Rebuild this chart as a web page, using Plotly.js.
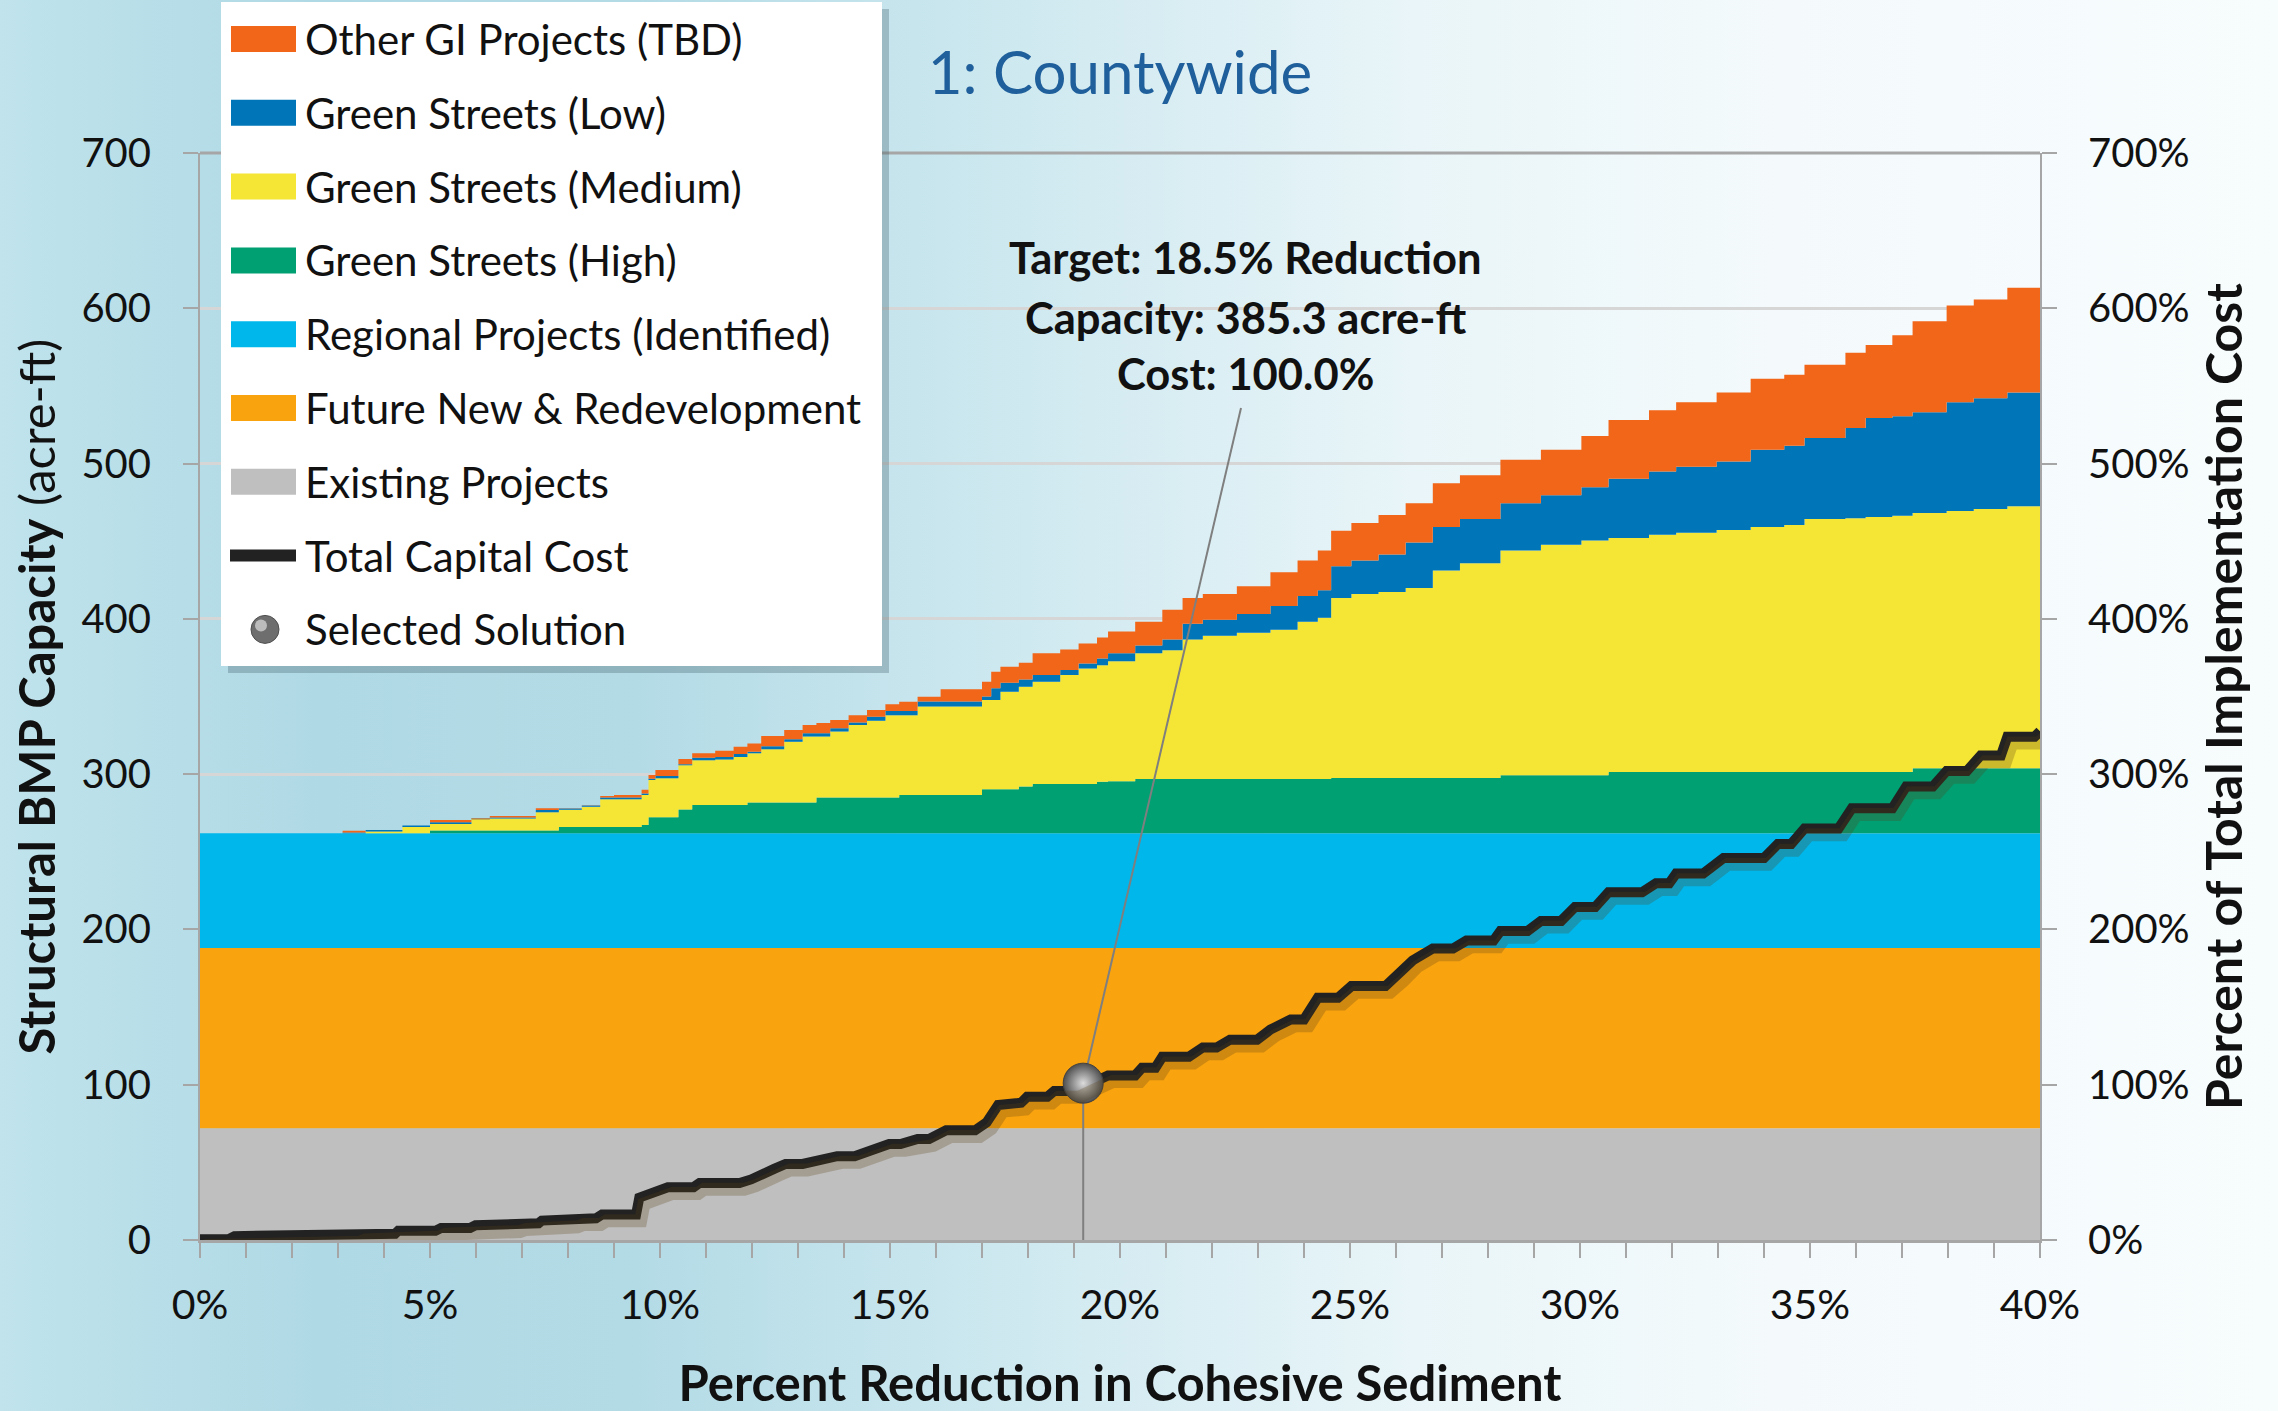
<!DOCTYPE html>
<html>
<head>
<meta charset="utf-8">
<script src="https://cdn.plot.ly/plotly-3.0.1.min.js"></script>
<style>
html,body{margin:0;padding:0;}
#chart{width:2278px;height:1411px;background:linear-gradient(to right,#c0e3ec 0%,#afd9e5 14%,#b3dbe6 28%,#cfe9f0 45%,#e9f5f8 62%,#f4fafc 78%,#f7fcfd 100%);}
</style>
</head>
<body>
<div id="chart"></div>
<script>
// ---------------- DATA ----------------
// x: percent reduction in cohesive sediment; y: cumulative capacity (acre-ft) at the top of each stacked layer
const baseX = [0, 40];
const existingTop = [72, 72];
const futureTop = [188, 188];
const regionalTop = [262, 262];

const layerX = [0, 3.1, 3.6, 4.4, 5.0, 5.9, 6.3, 7.3, 7.8, 8.3, 8.7, 9.0, 9.6, 9.75, 9.9, 10.4, 10.7, 11.2, 11.6, 11.9,
  12.2, 12.7, 13.1, 13.4, 13.7, 14.1, 14.5, 14.9, 15.2, 15.6, 16.1, 16.6, 17.0, 17.2, 17.4, 17.8, 18.1, 18.7, 19.1, 19.5,
  19.74, 20.33, 20.92, 21.36, 21.80, 22.54, 23.27, 23.86, 24.30, 24.59, 25.03, 25.62, 26.21, 26.80, 27.39, 28.27, 29.15,
  30.03, 30.62, 31.50, 32.09, 32.97, 33.71, 34.44, 34.88, 35.77, 36.21, 36.79, 37.23, 37.97, 38.56, 39.29, 40];

const highTop = [262, 262, 262, 262, 263.7, 263.7, 263.7, 263.7, 265.9, 265.9, 265.9, 265.9, 267.2, 272.2, 272.2, 277.3,
  280.1, 280.1, 280.1, 281.7, 281.7, 281.7, 281.7, 285, 285, 285, 285, 285, 286.6, 286.6, 286.6, 286.6, 290.3, 290.3,
  290.3, 292, 293.7, 293.7, 293.7, 295.1, 295.5, 296.8, 296.8, 296.8, 296.8, 296.8, 296.8, 296.8, 296.8, 297.5, 297.5,
  297.5, 297.5, 297.5, 297.5, 299.3, 299.3, 299.3, 301.3, 301.3, 301.3, 301.3, 301.3, 301.3, 301.3, 301.3, 301.3, 301.3,
  303.8, 303.8, 303.8, 303.8, 304.5];

const mediumTop = [262, 262, 263, 266, 267.9, 271.5, 271.5, 275.4, 277, 279, 283.8, 283.8, 286.5, 296.2, 297.3, 305.8,
  309, 309.5, 311, 313.4, 316, 320.9, 324.2, 324.2, 327.4, 331.6, 334.4, 338, 338, 343.5, 343.5, 343.5, 347.7, 347.7,
  353, 356.3, 359.5, 363.8, 368.1, 370.2, 372.7, 377.8, 379.8, 386.7, 389.2, 391, 393, 398.1, 400.7, 413.4, 416, 417.3,
  419.8, 431.2, 435.8, 444, 447.8, 450.4, 452.1, 454.2, 455.4, 457.2, 459.2, 460.5, 464.3, 464.8, 465.6, 466.4, 468.2,
  469.4, 470.7, 472.5, 474.5];

const lowTop = [262, 262.5, 264, 267, 269, 271, 272, 276.9, 277.8, 279.8, 285, 285, 287.6, 297, 298.8, 306.3, 310.5,
  311, 313, 314.5, 318, 322.5, 326.4, 326.4, 329.6, 333.2, 337, 340.7, 340.7, 346.7, 346.7, 346.7, 350, 355.3, 358.8,
  361, 363.8, 367, 371.3, 374.5, 377.8, 382.9, 386.7, 396.9, 399.4, 403.2, 408.3, 414.7, 418.5, 433.8, 437.6, 441.4,
  449.1, 459.2, 464.3, 474.5, 479.6, 484.7, 490.3, 494.9, 497.9, 501.3, 508.9, 511.4, 516.5, 522.9, 529.3, 530.5, 533.1,
  539.5, 542, 545.8, 549.6];

const tbdTop = [262, 263.6, 264, 267, 270.4, 271.5, 273, 278, 278, 280, 286, 286.5, 290, 299.5, 302.6, 309.7, 313.4,
  315, 317.7, 319.8, 324.5, 328.4, 331.6, 333, 334.8, 338, 341.3, 345, 346.6, 349.9, 354.6, 354.6, 359.5, 366, 369.2,
  371.8, 377.8, 380.3, 384.2, 388, 391.8, 398.1, 405.8, 413.4, 416, 421, 430, 437.6, 444, 456.7, 461.8, 466.9, 474.5,
  487.3, 492.4, 502.5, 508.9, 517.8, 528, 534.4, 539.5, 545.8, 554.7, 557.2, 563.6, 571.3, 576.4, 582.7, 591.6, 601.8,
  605.7, 613.3, 619.6];

// Total capital cost (% of total implementation cost)
const costX = [0, 0.62, 0.75, 3.37, 3.49, 4.24, 4.31, 5.12, 5.24, 5.87, 5.99, 6.86, 6.99, 7.36, 7.43, 8.11, 8.24, 8.61,
  8.74, 9.48, 9.55, 9.86, 10.17, 10.73, 10.86, 11.73, 11.98, 12.48, 12.73, 13.1, 13.48, 13.85, 14.23, 14.6, 14.98, 15.23,
  15.6, 15.85, 16.22, 16.85, 17.1, 17.35, 17.85, 17.98, 18.42, 18.57, 19.01, 19.74, 20.33, 20.48, 20.77, 20.92, 21.5,
  21.8, 22.1, 22.39, 22.98, 23.27, 23.71, 24.0, 24.3, 24.74, 25.03, 25.77, 26.06, 26.36, 26.8, 27.24, 27.53, 28.12,
  28.27, 28.86, 29.15, 29.59, 29.89, 30.33, 30.62, 31.35, 31.65, 31.94, 32.09, 32.68, 33.12, 34.0, 34.3, 34.59, 34.88,
  35.62, 35.91, 36.79, 37.09, 37.67, 37.97, 38.41, 38.71, 39.15, 39.29, 39.88, 40];
const costY = [0.5, 0.5, 2.5, 2.5, 4, 4, 6, 6, 7.7, 7.7, 9.5, 9.5, 10.8, 10.8, 12.5, 12.5, 14, 14, 16.4, 16.4, 27.3, 31,
  34, 34, 36.7, 36.7, 39, 45.8, 49, 49, 51.5, 54, 54, 58, 61.8, 61.8, 65, 65, 70.6, 70.6, 75.7, 87, 88.4, 92.2, 92.2,
  96, 96, 106, 106, 111, 111, 118, 118, 124, 124, 129, 129, 135.5, 142, 142, 156, 156, 163.5, 163.5, 171, 180, 187.7,
  187.7, 192.8, 192.8, 199, 199, 205.5, 205.5, 214.4, 214.4, 224, 224, 229.7, 229.7, 236, 236, 246, 246, 255, 255, 265,
  265, 278, 278, 292, 292, 302, 302, 312, 312, 324, 324, 327.6];

// Selected solution
const selectedX = 19.2;
const selectedCost = 101;
const targetReduction = 18.5;
const selectedCapacity = 385.3;
const selectedCostLabel = 100.0;

const seriesNames = ['Other GI Projects (TBD)', 'Green Streets (Low)', 'Green Streets (Medium)', 'Green Streets (High)',
  'Regional Projects (Identified)', 'Future New & Redevelopment', 'Existing Projects', 'Total Capital Cost', 'Selected Solution'];
const xTickSuffix = '%';
const chartTitle = '1: Countywide';

// ---------------- STYLE / LAYOUT ----------------
const W = 2278, H = 1411;
const M = {l: 200, r: 238, t: 153, b: 171};
const PW = W - M.l - M.r, PH = H - M.t - M.b;
const X_RANGE = [0, 40], Y_RANGE = [0, 700];
const FONT = 'Lato, "Open Sans", "DejaVu Sans", sans-serif';
const AXIS_GRAY = '#a6a6a6';
const colors = {
  tbd: '#F26619', low: '#0075B7', medium: '#F5E535', high: '#00A073',
  regional: '#00B7EB', future: '#F9A30F', existing: '#BFBFBF'
};
const px2paperX = px => (px - M.l) / PW;
const py2paperY = py => (H - M.b - py) / PH;
const px2dataX = px => X_RANGE[0] + (px - M.l) / PW * (X_RANGE[1] - X_RANGE[0]);
const py2dataY = py => Y_RANGE[0] + (H - M.b - py) / PH * (Y_RANGE[1] - Y_RANGE[0]);

const areaSeries = [
  {name: seriesNames[6], x: baseX, y: existingTop, color: colors.existing},
  {name: seriesNames[5], x: baseX, y: futureTop, color: colors.future},
  {name: seriesNames[4], x: baseX, y: regionalTop, color: colors.regional},
  {name: seriesNames[3], x: layerX, y: highTop, color: colors.high},
  {name: seriesNames[2], x: layerX, y: mediumTop, color: colors.medium},
  {name: seriesNames[1], x: layerX, y: lowTop, color: colors.low},
  {name: seriesNames[0], x: layerX, y: tbdTop, color: colors.tbd}
];

const traces = areaSeries.map((s, i) => ({
  type: 'scatter', mode: 'lines', name: s.name, x: s.x, y: s.y,
  line: {width: 0, shape: 'hv', color: s.color},
  fill: i === 0 ? 'tozeroy' : 'tonexty', fillcolor: s.color,
  xaxis: 'x', yaxis: 'y', hoverinfo: 'skip'
}));

// soft drop shadow of the cost line (same data on slightly shifted hidden axes)
traces.push({
  type: 'scatter', mode: 'lines', name: 'shadow', x: costX, y: costY,
  line: {color: 'rgba(90,60,20,0.26)', width: 13},
  xaxis: 'x2', yaxis: 'y3', hoverinfo: 'skip'
});

// connector lines from the selected solution
const labelAnchor = {px: 1241, py: 408};
traces.push({
  type: 'scatter', mode: 'lines', name: 'connector', x: [selectedX, selectedX], y: [0, selectedCost],
  line: {color: '#7f7f7f', width: 2}, xaxis: 'x', yaxis: 'y2', hoverinfo: 'skip'
});
traces.push({
  type: 'scatter', mode: 'lines', name: 'connector2',
  x: [selectedX, px2dataX(labelAnchor.px)], y: [selectedCost, py2dataY(labelAnchor.py)],
  line: {color: '#7f7f7f', width: 2}, xaxis: 'x', yaxis: 'y2', hoverinfo: 'skip'
});

traces.push({
  type: 'scatter', mode: 'lines', name: seriesNames[7], x: costX, y: costY,
  line: {color: '#222222', width: 10}, xaxis: 'x', yaxis: 'y2', hoverinfo: 'skip'
});
traces.push({
  type: 'scatter', mode: 'markers', name: seriesNames[8], x: [selectedX], y: [selectedCost],
  marker: {size: 40, color: '#4e4e4e', gradient: {type: 'radial', color: '#dcdcdc'}, line: {width: 1, color: '#404040'}},
  xaxis: 'x', yaxis: 'y2', hoverinfo: 'skip', cliponaxis: false
});

// ---------------- manual legend ----------------
const shapes = [];
const annotations = [];
const LEG = {x0: 221, x1: 882, y0: 2, y1: 666, rowTop: 39, step: 73.8, symX0: 231, symX1: 296, symH: 26, textX: 303};
shapes.push({type: 'rect', xref: 'paper', yref: 'paper',
  x0: px2paperX(LEG.x0 + 7), x1: px2paperX(LEG.x1 + 7), y0: py2paperY(LEG.y1 + 7), y1: py2paperY(LEG.y0 + 7),
  fillcolor: 'rgba(60,90,100,0.30)', line: {width: 0}, layer: 'above'});
shapes.push({type: 'rect', xref: 'paper', yref: 'paper',
  x0: px2paperX(LEG.x0), x1: px2paperX(LEG.x1), y0: py2paperY(LEG.y1), y1: py2paperY(LEG.y0),
  fillcolor: '#ffffff', line: {width: 0}, layer: 'above'});
const legendColors = [colors.tbd, colors.low, colors.medium, colors.high, colors.regional, colors.future, colors.existing];
seriesNames.forEach((name, i) => {
  const cy = LEG.rowTop + LEG.step * i;
  if (i < 7) {
    shapes.push({type: 'rect', xref: 'paper', yref: 'paper',
      x0: px2paperX(LEG.symX0), x1: px2paperX(LEG.symX1), y0: py2paperY(cy + LEG.symH / 2), y1: py2paperY(cy - LEG.symH / 2),
      fillcolor: legendColors[i], line: {width: 0}, layer: 'above'});
  } else if (i === 7) {
    shapes.push({type: 'line', xref: 'paper', yref: 'paper',
      x0: px2paperX(230), x1: px2paperX(296), y0: py2paperY(cy), y1: py2paperY(cy),
      line: {color: '#222222', width: 12}, layer: 'above'});
  } else {
    shapes.push({type: 'circle', xref: 'paper', yref: 'paper',
      x0: px2paperX(251), x1: px2paperX(279), y0: py2paperY(cy + 14), y1: py2paperY(cy - 14),
      fillcolor: '#6e6e6e', line: {width: 1, color: '#505050'}, layer: 'above'});
    shapes.push({type: 'circle', xref: 'paper', yref: 'paper',
      x0: px2paperX(255), x1: px2paperX(267), y0: py2paperY(cy + 2), y1: py2paperY(cy - 10),
      fillcolor: 'rgba(215,215,215,0.75)', line: {width: 0}, layer: 'above'});
  }
  annotations.push({xref: 'paper', yref: 'paper', x: px2paperX(LEG.textX), y: py2paperY(cy),
    xanchor: 'left', yanchor: 'middle', text: name, showarrow: false,
    font: {family: FONT, size: 42, color: '#111111'}});
});

// top border line at 700
shapes.push({type: 'line', xref: 'paper', yref: 'paper', x0: 0, x1: 1, y0: 1, y1: 1,
  line: {color: AXIS_GRAY, width: 3}, layer: 'below'});

// selected-solution label
const labelLines = [
  {text: '<b>Target: ' + targetReduction.toFixed(1) + '% Reduction</b>', py: 257},
  {text: '<b>Capacity: ' + selectedCapacity.toFixed(1) + ' acre-ft</b>', py: 317},
  {text: '<b>Cost: ' + selectedCostLabel.toFixed(1) + '%</b>', py: 373}
];
labelLines.forEach(l => annotations.push({xref: 'paper', yref: 'paper', x: px2paperX(1245), y: py2paperY(l.py),
  xanchor: 'center', yanchor: 'middle', text: l.text, showarrow: false,
  font: {family: FONT, size: 43.5, color: '#111111'}}));

const tickFont = {family: FONT, size: 40, color: '#111111'};
const layout = {
  width: W, height: H,
  margin: {l: M.l, r: M.r, t: M.t, b: M.b, pad: 0},
  paper_bgcolor: 'rgba(0,0,0,0)', plot_bgcolor: 'rgba(0,0,0,0)',
  font: {family: FONT, size: 40, color: '#111111'},
  showlegend: false, hovermode: false,
  title: {text: chartTitle, x: 0.5, xref: 'paper', xanchor: 'center', y: 1 - 73 / H, yref: 'container', yanchor: 'middle',
    font: {family: FONT, size: 60, color: '#1F5F9B'}},
  xaxis: {range: X_RANGE, dtick: 5, tick0: 0, ticksuffix: xTickSuffix, ticks: 'outside', ticklen: 15, tickwidth: 2,
    tickcolor: AXIS_GRAY, showline: true, linecolor: AXIS_GRAY, linewidth: 3, showgrid: false, zeroline: false,
    tickfont: {family: FONT, size: 41, color: '#111111'}, ticklabelstandoff: 12,
    minor: {dtick: 1, tick0: 0, ticks: 'outside', ticklen: 15, tickwidth: 2, tickcolor: AXIS_GRAY, showgrid: false},
    title: {text: '<b>Percent Reduction in Cohesive Sediment</b>', standoff: 45, font: {family: FONT, size: 49, color: '#111111'}}},
  yaxis: {range: Y_RANGE, dtick: 100, ticks: 'outside', ticklen: 15, tickwidth: 2, tickcolor: AXIS_GRAY,
    showline: true, linecolor: AXIS_GRAY, linewidth: 2, gridcolor: '#d6d6d6', gridwidth: 3, zeroline: false,
    tickfont: tickFont, ticklabelstandoff: 24,
    title: {text: '<b>Structural BMP Capacity</b> (acre-ft)', standoff: 10, font: {family: FONT, size: 49, color: '#111111'}}},
  yaxis2: {range: Y_RANGE, overlaying: 'y', side: 'right', anchor: 'x', dtick: 100, ticksuffix: '%', ticks: 'outside',
    ticklen: 15, tickwidth: 2, tickcolor: AXIS_GRAY, showline: true, linecolor: AXIS_GRAY, linewidth: 2,
    showgrid: false, zeroline: false, tickfont: tickFont, ticklabelstandoff: 23,
    title: {text: '<b>Percent of Total Implementation Cost</b>', standoff: 18, font: {family: FONT, size: 50, color: '#111111'}}},
  xaxis2: {range: [X_RANGE[0] - 0.1, X_RANGE[1] - 0.1], overlaying: 'x', visible: false, anchor: 'y3'},
  yaxis3: {range: [Y_RANGE[0] + 4, Y_RANGE[1] + 4], overlaying: 'y', visible: false, anchor: 'x2'},
  shapes: shapes,
  annotations: annotations
};

Plotly.newPlot('chart', traces, layout, {staticPlot: true, displayModeBar: false});
</script>
</body>
</html>
